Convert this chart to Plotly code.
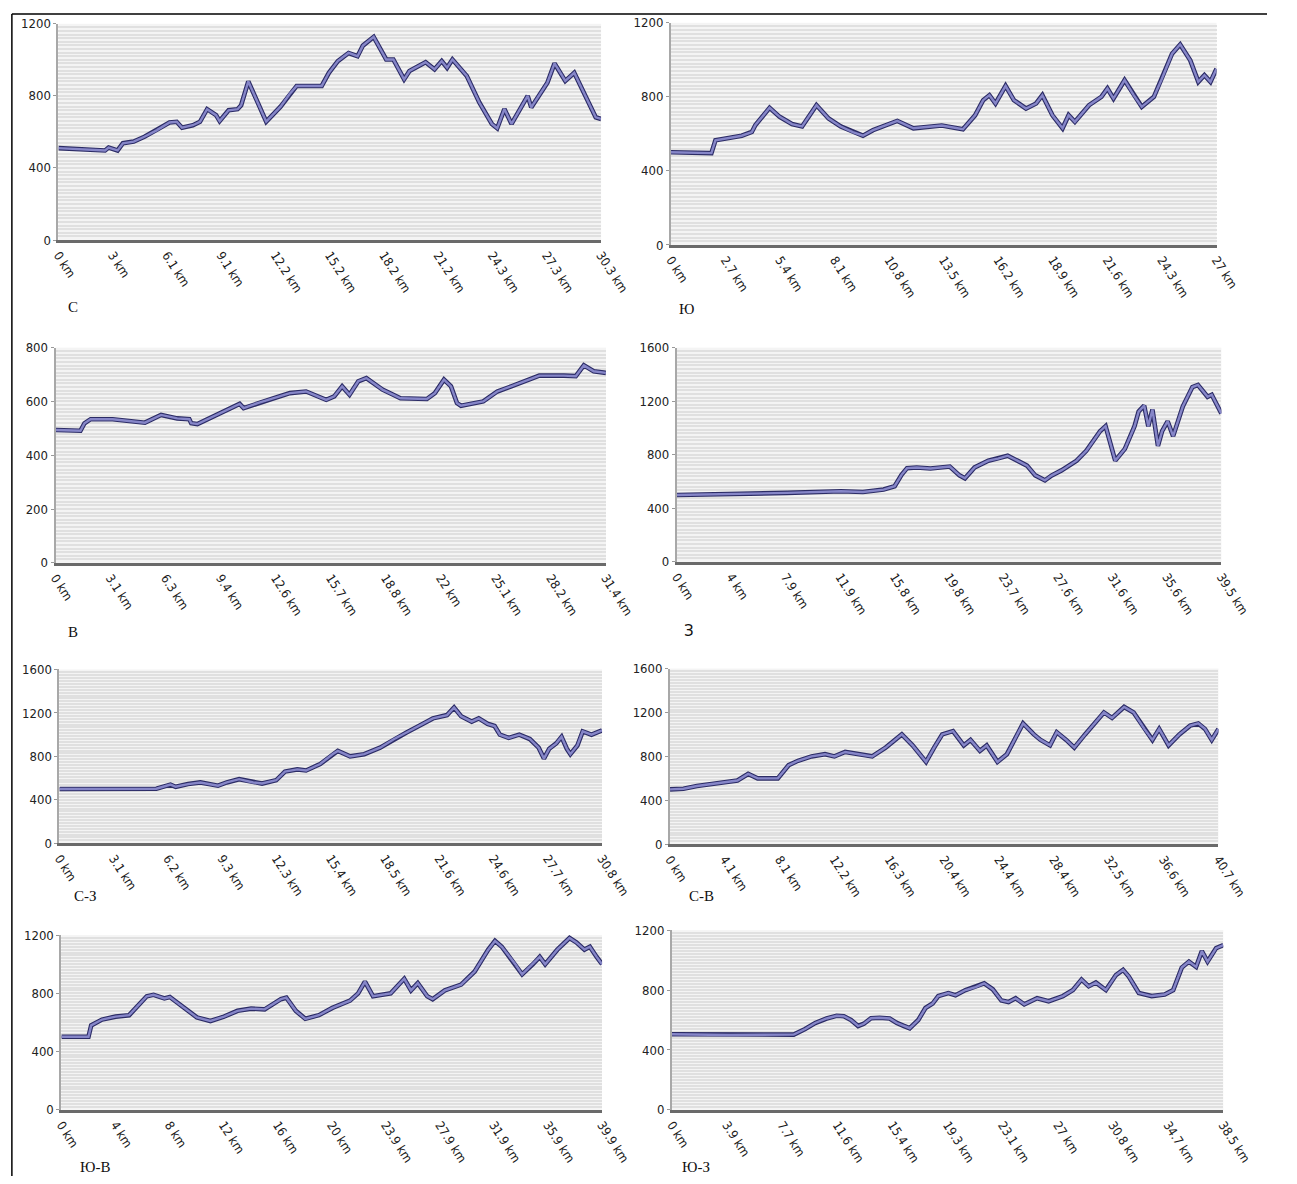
import plotly.graph_objects as go

W, H = 1297, 1184


def fx(px):
    return px / W


def fy(py):
    return 1 - py / H


# ---------------- data (distance km, elevation m) ----------------
c_km = [0, 0.8, 2.6, 2.8, 3.3, 3.6, 4.2, 4.8, 5.5, 6.2, 6.6, 6.9, 7.5, 7.9, 8.3, 8.8, 9.0, 9.5, 10.0, 10.2, 10.6,
        11.6, 12.4, 12.9, 13.3, 14.7, 15.1, 15.6, 16.2, 16.7, 17.0, 17.6, 18.3, 18.7, 19.3, 19.6, 20.5, 21.0, 21.4,
        21.7, 22.0, 22.8, 23.5, 24.2, 24.5, 24.9, 25.3, 26.2, 26.4, 27.3, 27.7, 28.3, 28.8, 29.6, 30.0, 30.3]
c_m = [510, 506, 497, 513, 497, 537, 546, 573, 610, 652, 656, 623, 637, 656, 726, 693, 660, 720, 726, 748, 880,
       657, 740, 809, 855, 855, 928, 993, 1038, 1020, 1079, 1127, 1002, 1002, 892, 938, 987, 947, 993,
       956, 1002, 910, 763, 644, 620, 727, 644, 800, 736, 873, 980, 883, 928, 763, 681, 672]
c_ticks = ["0 km", "3 km", "6.1 km", "9.1 km", "12.2 km", "15.2 km", "18.2 km", "21.2 km", "24.3 km", "27.3 km", "30.3 km"]

yu_km = [0, 1.0, 2.0, 2.2, 2.8, 3.5, 4.0, 4.18, 4.88, 5.38, 5.99, 6.49, 7.2, 7.8, 8.4, 9.0, 9.5, 10.0, 11.2, 12.0,
         13.4, 14.45, 15.05, 15.45, 15.76, 16.06, 16.56, 16.97, 17.57, 18.07, 18.38, 18.88, 19.38, 19.68, 19.99,
         20.69, 21.3, 21.6, 21.9, 22.45, 22.9, 23.3, 23.9, 24.3, 24.8, 25.2, 25.7, 26.1, 26.4, 26.7, 27.0]
yu_m = [501, 498, 496, 565, 576, 590, 610, 648, 741, 692, 653, 640, 755, 683, 640, 610, 590, 620, 670, 630,
        645, 625, 700, 782, 809, 764, 859, 782, 737, 764, 809, 700, 630, 701, 665,
        755, 800, 845, 791, 890, 809, 746, 800, 899, 1033, 1083, 997, 881, 917, 881, 952]
yu_ticks = ["0 km", "2.7 km", "5.4 km", "8.1 km", "10.8 km", "13.5 km", "16.2 km", "18.9 km", "21.6 km", "24.3 km", "27 km"]

v_km = [0, 1.42, 1.65, 2.0, 3.26, 4.41, 5.1, 6.02, 6.94, 7.63, 7.74, 8.09, 9.0, 10.5, 10.73, 11.53, 12.45, 13.37,
        14.29, 15.44, 15.9, 16.35, 16.77, 17.27, 17.73, 18.65, 19.68, 21.18, 21.64, 22.16, 22.56, 22.9, 23.13,
        24.4, 25.2, 26.0, 26.92, 27.6, 29.0, 29.68, 30.14, 30.7, 31.4]
v_m = [494, 491, 519, 534, 534, 525, 521, 550, 537, 534, 519, 516, 544, 591, 575, 594, 612, 631,
       637, 606, 619, 656, 625, 675, 687, 644, 612, 609, 631, 681, 656, 594, 584,
       600, 637, 656, 679, 696, 696, 694, 734, 712, 706]
v_ticks = ["0 km", "3.1 km", "6.3 km", "9.4 km", "12.6 km", "15.7 km", "18.8 km", "22 km", "25.1 km", "28.2 km", "31.4 km"]

z_km = [0, 4, 8, 11.9, 13.5, 15.0, 15.8, 16.3, 16.7, 17.4, 18.4, 19.8, 20.5, 20.9, 21.6, 22.6, 23.3, 24.0, 24.7,
        25.4, 26.0, 26.7, 27.2, 27.9, 29.0, 29.7, 30.7, 31.1, 31.8, 32.5, 33.2, 33.5, 33.9, 34.2, 34.5, 34.9, 35.2,
        35.6, 36.0, 36.7, 37.4, 37.8, 38.5, 38.8, 39.5]
z_m = [500, 505, 515, 528, 522, 540, 565, 650, 700, 705, 697, 712, 646, 624, 705, 756, 771, 793, 756,
       719, 646, 609, 646, 683, 756, 829, 976, 1013, 756, 844, 1013, 1123, 1167, 1013, 1138, 866, 976,
       1050, 939, 1160, 1306, 1321, 1233, 1248, 1108]
z_ticks = ["0 km", "4 km", "7.9 km", "11.9 km", "15.8 km", "19.8 km", "23.7 km", "27.6 km", "31.6 km", "35.6 km", "39.5 km"]

sz_km = [0, 5.5, 6.3, 6.6, 7.3, 8.0, 9.0, 9.5, 10.2, 11.0, 11.5, 12.3, 12.8, 13.5, 14.0, 14.8, 15.5, 15.8, 16.5,
         17.3, 18.2, 19.0, 19.7, 20.4, 21.2, 22.0, 22.4, 22.8, 23.4, 23.8, 24.3, 24.7, 25.0, 25.5, 26.1, 26.7,
         27.2, 27.5, 27.8, 28.2, 28.5, 28.8, 29.0, 29.4, 29.7, 30.2, 30.8]
sz_m = [500, 502, 540, 520, 545, 560, 530, 560, 590, 560, 550, 580, 660, 680, 670, 730, 820, 850, 800,
        820, 880, 960, 1020, 1080, 1150, 1180, 1250, 1170, 1120, 1150, 1100, 1080, 1000, 970, 1000, 960,
        880, 780, 870, 920, 980, 870, 820, 900, 1030, 1000, 1040]
sz_ticks = ["0 km", "3.1 km", "6.2 km", "9.3 km", "12.3 km", "15.4 km", "18.5 km", "21.6 km", "24.6 km", "27.7 km", "30.8 km"]

sv_km = [0, 1, 2, 4, 5, 5.8, 6.5, 8.0, 8.8, 9.5, 10.5, 11.5, 12.2, 13.0, 14.0, 15.0, 16.0, 17.2, 18.0, 19.0,
         19.6, 20.2, 21.0, 21.8, 22.3, 23.0, 23.5, 24.3, 25.0, 25.8, 26.2, 27.0, 27.5, 28.2, 28.7, 29.4, 30.0,
         30.8, 31.5, 32.2, 32.8, 33.7, 34.4, 35.2, 35.8, 36.3, 37.0, 37.8, 38.6, 39.2, 39.7, 40.2, 40.7]
sv_m = [500, 505, 530, 560, 580, 640, 600, 600, 720, 760, 800, 820, 800, 840, 820, 800, 880, 1000, 900, 750,
        880, 1000, 1030, 900, 950, 850, 900, 750, 820, 1000, 1100, 1000, 950, 900, 1020, 950, 880,
        1000, 1100, 1200, 1150, 1250, 1200, 1050, 950, 1050, 900, 1000, 1080, 1100, 1050, 950, 1050]
sv_ticks = ["0 km", "4.1 km", "8.1 km", "12.2 km", "16.3 km", "20.4 km", "24.4 km", "28.4 km", "32.5 km", "36.6 km", "40.7 km"]

yv_km = [0, 2.0, 2.2, 3.0, 4.0, 5.0, 5.5, 6.3, 6.8, 7.6, 8.0, 8.8, 9.3, 10.0, 11.0, 12.0, 13.0, 14.0, 15.0,
         15.5, 16.2, 16.6, 17.3, 18.0, 19.0, 20.0, 21.3, 21.9, 22.4, 23.0, 24.3, 25.3, 25.8, 26.3, 27.0, 27.4,
         28.3, 29.5, 30.5, 31.5, 32.0, 32.5, 33.5, 34.0, 34.8, 35.3, 35.7, 36.6, 37.5, 38.0, 38.6, 39.0, 39.5, 39.9]
yv_m = [502, 502, 580, 620, 640, 650, 700, 780, 790, 765, 775, 720, 680, 635, 610, 640, 680, 695, 690,
        720, 760, 770, 680, 625, 650, 700, 750, 800, 880, 780, 800, 900, 820, 870, 780, 760,
        820, 860, 950, 1100, 1160, 1120, 1000, 930, 1000, 1050, 1000, 1100, 1180, 1150, 1100, 1120, 1050, 1000]
yv_ticks = ["0 km", "4 km", "8 km", "12 km", "16 km", "20 km", "23.9 km", "27.9 km", "31.9 km", "35.9 km", "39.9 km"]

yz_km = [0, 4, 8.5, 9.3, 10.0, 10.8, 11.5, 12.0, 12.5, 13.0, 13.4, 13.9, 14.5, 15.2, 15.7, 16.2, 16.6, 17.2,
         17.7, 18.2, 18.6, 19.3, 19.8, 20.5, 21.2, 21.8, 22.4, 23.0, 23.5, 24.0, 24.6, 25.5, 26.3, 27.3, 28.0,
         28.6, 29.1, 29.6, 30.3, 31.0, 31.5, 31.9, 32.6, 33.5, 34.4, 35.0, 35.6, 36.1, 36.6, 37.0, 37.4, 38.0, 38.5]
yz_m = [505, 500, 502, 540, 580, 610, 628, 625, 600, 560, 575, 612, 615, 610, 580, 560, 545, 600,
        680, 710, 760, 780, 765, 800, 820, 845, 805, 730, 720, 745, 705, 745, 725, 760, 800,
        870, 825, 850, 800, 900, 935, 890, 780, 760, 770, 800, 950, 990, 955, 1060, 990, 1080, 1100]
yz_ticks = ["0 km", "3.9 km", "7.7 km", "11.6 km", "15.4 km", "19.3 km", "23.1 km", "27 km", "30.8 km", "34.7 km", "38.5 km"]

names = ["С", "Ю", "В", "З", "С-З", "С-В", "Ю-В", "Ю-З"]

# ---------------- layout geometry (page pixels) ----------------
panels = [
    (c_km, c_m, c_ticks, 1200, 400, (52, 611, 17, 236), (60, 304), "Liberation Serif"),
    (yu_km, yu_m, yu_ticks, 1200, 400, (683, 1245, 16, 241), (689, 306), "Liberation Serif"),
    (v_km, v_m, v_ticks, 800, 200, (49, 616, 345, 563), (60, 633), "Liberation Serif"),
    (z_km, z_m, z_ticks, 1600, 400, (689, 1250, 345, 562), (694, 632), "DejaVu Sans"),
    (sz_km, sz_m, sz_ticks, 1600, 400, (53, 612, 671, 847), (66, 900), "Liberation Serif"),
    (sv_km, sv_m, sv_ticks, 1600, 400, (682, 1247, 670, 848), (700, 900), "Liberation Serif"),
    (yv_km, yv_m, yv_ticks, 1200, 400, (55, 612, 940, 1117), (72, 1175), "Liberation Serif"),
    (yz_km, yz_m, yz_ticks, 1200, 400, (684, 1252, 935, 1117), (692, 1175), "Liberation Serif"),
]

fig = go.Figure()
annotations = []
for i, (xs, ys, ticks, ymax, ystep, box, lab, labfont) in enumerate(panels, start=1):
    x0, x1, yt, yb = box
    total = float(ticks[-1].split()[0])
    tickvals = [total * k / (len(ticks) - 1) for k in range(len(ticks))]
    xa = "x" if i == 1 else f"x{i}"
    ya = "y" if i == 1 else f"y{i}"
    fig.add_trace(go.Scatter(x=xs, y=ys, mode="lines", xaxis=xa, yaxis=ya,
                             line=dict(color="#2c2c66", width=4.6), hoverinfo="skip", showlegend=False))
    fig.add_trace(go.Scatter(x=xs, y=ys, mode="lines", xaxis=xa, yaxis=ya,
                             line=dict(color="#8686c8", width=2.4), showlegend=False))
    xkey = "xaxis" if i == 1 else f"xaxis{i}"
    ykey = "yaxis" if i == 1 else f"yaxis{i}"
    fig.update_layout(**{
        xkey: dict(domain=[fx(x0), fx(x1)], anchor=ya, range=[0, total],
                   tickvals=tickvals, ticktext=ticks, tickangle=57,
                   showgrid=False, zeroline=False, showline=True, linecolor="#6a6a6a", linewidth=3,
                   ticks="", tickfont=dict(family="DejaVu Sans Condensed", size=12.5, color="#1a1a1a"),
                   fixedrange=True),
        ykey: dict(domain=[fy(yb), fy(yt)], anchor=xa, range=[0, ymax],
                   tickvals=list(range(0, ymax + 1, ystep)), showgrid=True,
                   gridcolor="#e0e0e0", gridwidth=2, zeroline=False,
                   showline=True, linecolor="#a8a8a8", linewidth=2,
                   ticks="outside", ticklen=3, tickcolor="#999999",
                   tickfont=dict(family="DejaVu Sans Condensed", size=13, color="#222222"),
                   minor=dict(dtick=ymax / 60, showgrid=True, gridcolor="#e0e0e0", gridwidth=2),
                   fixedrange=True),
    })
    annotations.append(dict(text=names[i - 1], x=fx(lab[0]), y=fy(lab[1]), xref="paper", yref="paper",
                            xanchor="left", yanchor="middle", showarrow=False,
                            font=dict(family=labfont, size=15, color="#111111")))

fig.update_layout(
    width=W, height=H, margin=dict(l=0, r=0, t=0, b=0),
    paper_bgcolor="white", plot_bgcolor="#f4f4f4",
    annotations=annotations,
    shapes=[
        dict(type="line", xref="paper", yref="paper", x0=fx(4), x1=1, y0=fy(7), y1=fy(7),
             line=dict(color="#000000", width=1.5)),
        dict(type="line", xref="paper", yref="paper", x0=fx(4), x1=fx(4), y0=0, y1=fy(7),
             line=dict(color="#000000", width=1.5)),
    ],
)

fig.write_html("out.html", config={"displayModeBar": False},
               post_script="document.body.style.margin='0';document.body.style.overflow='hidden';")
